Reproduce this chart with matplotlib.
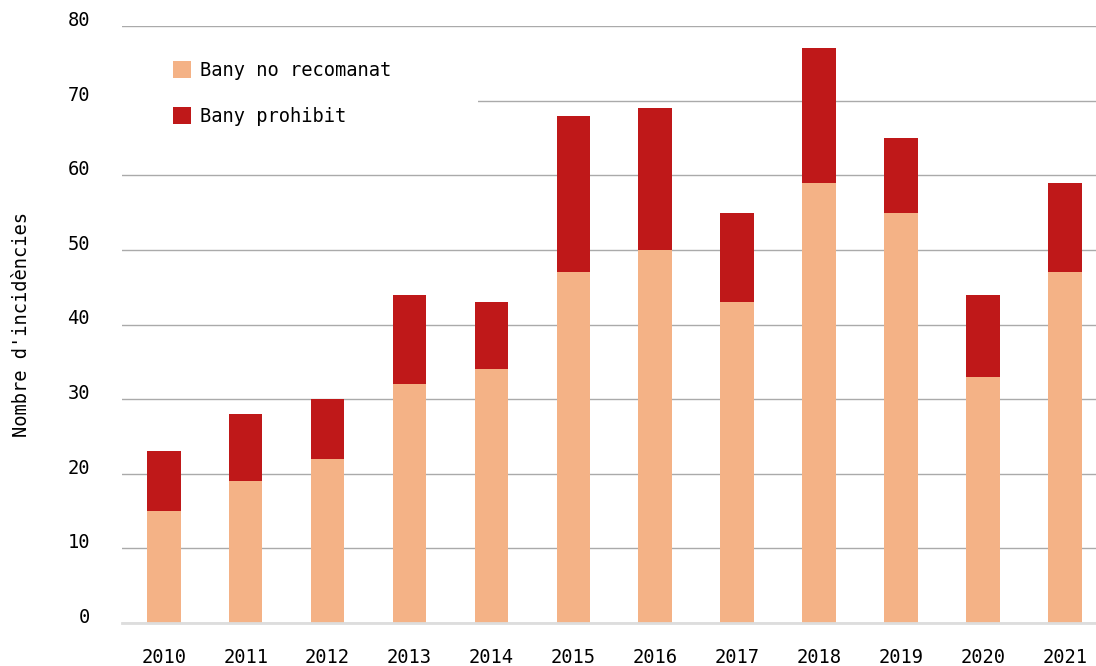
import matplotlib
matplotlib.use("Agg")
import matplotlib.pyplot as plt
from matplotlib.patches import Rectangle
import numpy as np

# Data
anys = ['2010', '2011', '2012', '2013', '2014', '2015',
        '2016', '2017', '2018', '2019', '2020', '2021']
no_recomanat = [15, 19, 22, 32, 34, 47, 50, 43, 59, 55, 33, 47]
prohibit = [8, 9, 8, 12, 9, 21, 19, 12, 18, 10, 11, 12]

col_clar = '#F4B286'
col_fosc = '#BF1819'

plt.rcParams['font.family'] = ['DejaVu Sans Mono']
plt.rcParams['font.size'] = 13

fig = plt.figure(figsize=(10.96, 6.66), dpi=100)
ax = fig.add_axes([122/1096, 43/666, 1 - 122/1096, (623 - 26)/666])

x = np.arange(len(anys))
ax.bar(x, no_recomanat, width=0.41, color=col_clar, label='Bany no recomanat', zorder=2)
ax.bar(x, prohibit, width=0.41, bottom=no_recomanat, color=col_fosc,
       label='Bany prohibit', zorder=2)

ax.set_xlim(-0.51, 11.38)
ax.set_ylim(0, 80)
ax.set_yticks(range(0, 81, 10))
ax.set_xticks(x)
ax.set_xticklabels(anys)

ax.set_axisbelow(True)
ax.grid(axis='y', color='#AAAAAA', linewidth=1, zorder=0.5)
ax.grid(axis='x', visible=False)
for s in ['top', 'right', 'left']:
    ax.spines[s].set_visible(False)
ax.spines['bottom'].set_color('#DDDDDD')
ax.spines['bottom'].set_linewidth(2)
ax.spines['bottom'].set_zorder(3)

ax.tick_params(axis='y', length=0, pad=23, labelsize=13.5)
ax.tick_params(axis='x', length=0, pad=18, labelsize=13.5)
for lab in ax.get_yticklabels():
    lab.set_verticalalignment('baseline')

ax.set_ylabel("Nombre d'incidències", fontsize=13.5, labelpad=26)

# white box behind the legend hides the gridlines
ax.add_patch(Rectangle((0, 0.79), (478 - 122)/974, 0.19, transform=ax.transAxes,
                       facecolor='white', edgecolor='none', zorder=1))
ax.legend(loc='upper left', bbox_to_anchor=(0.035, 0.97), frameon=False,
          fontsize=13.5, handlelength=0.95, handleheight=1.0, handletextpad=0.5,
          labelspacing=1.45)

fig.savefig('out.png', dpi=100)
